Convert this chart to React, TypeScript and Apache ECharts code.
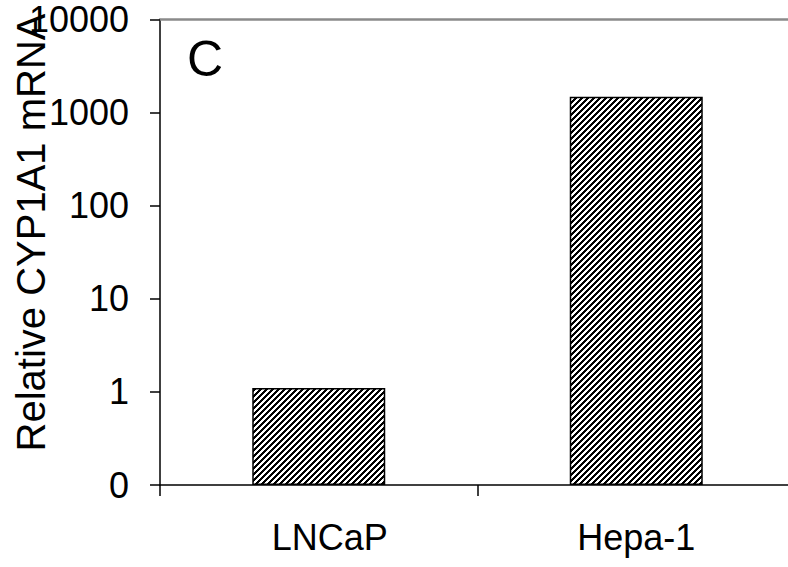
import React, { useEffect, useRef } from "react";
import * as echarts from "echarts";

const categories = ["LNCaP", "Hepa-1"];
const values = [1.1, 1480];
const axisFloor = 0.1;
const axisCeil = 10000;
const yTicks = [0.1, 1, 10, 100, 1000, 10000];
const yTickLabels = ["0", "1", "10", "100", "1000", "10000"];
const yTitle = "Relative CYP1A1 mRNA";
const panelLabel = "C";

function makePattern(): HTMLCanvasElement {
  const p = 6;
  const c = document.createElement("canvas");
  c.width = p;
  c.height = p;
  const ctx = c.getContext("2d")!;
  const img = ctx.createImageData(p, p);
  for (let y = 0; y < p; y++) {
    for (let x = 0; x < p; x++) {
      const k = (x + y) % p;
      const v = k < p / 2 ? 0 : 255;
      const i = (y * p + x) * 4;
      img.data[i] = v;
      img.data[i + 1] = v;
      img.data[i + 2] = v;
      img.data[i + 3] = 255;
    }
  }
  ctx.putImageData(img, 0, 0);
  return c;
}

export default function App() {
  const ref = useRef<HTMLDivElement>(null);
  useEffect(() => {
    if (!ref.current) return;
    const chart = echarts.init(ref.current, undefined, { renderer: "svg" });
    const font = "'Liberation Sans', Arial, sans-serif";
    const labelFor = (v: number) => {
      const idx = yTicks.findIndex((t) => Math.abs(Math.log10(t) - Math.log10(v)) < 1e-6);
      return idx >= 0 ? yTickLabels[idx] : "";
    };
    chart.setOption({
      animation: false,
      backgroundColor: "#ffffff",
      grid: { left: 160, top: 19.5, right: 5, bottom: 82, containLabel: false },
      xAxis: [
        {
          type: "category",
          data: categories.map((c, i) =>
            i === 0 ? { value: c, textStyle: { padding: [0, 0, 0, 22] } } : c
          ),
          position: "bottom",
          axisLine: { lineStyle: { color: "#000", width: 1.5 } },
          axisTick: { show: true, length: 11, lineStyle: { color: "#000", width: 1.5 } },
          axisLabel: { color: "#000", fontSize: 36, fontFamily: font, margin: 34 },
        },
        {
          type: "category",
          data: categories,
          position: "top",
          axisLine: { lineStyle: { color: "#8a8a8a", width: 2.5 } },
          axisTick: { show: false },
          axisLabel: { show: false },
        },
      ],
      yAxis: {
        type: "log",
        logBase: 10,
        min: axisFloor,
        max: axisCeil,
        axisLine: { show: true, lineStyle: { color: "#000", width: 1.5 } },
        axisTick: { show: true, length: 10, lineStyle: { color: "#000", width: 1.5 } },
        minorTick: { show: false },
        splitLine: { show: false },
        axisLabel: {
          color: "#000",
          fontSize: 36,
          fontFamily: font,
          margin: 31,
          formatter: (v: number) => labelFor(v),
        },
      },
      series: [
        {
          type: "bar",
          stack: "s",
          data: values.map(() => axisFloor),
          barWidth: 133,
          itemStyle: { color: "rgba(0,0,0,0)" },
          silent: true,
        },
        {
          type: "bar",
          stack: "s",
          data: values.map((v) => v - axisFloor),
          barWidth: 133,
          itemStyle: {
            color: { image: makePattern(), repetition: "repeat" },
            borderColor: "#000",
            borderWidth: 1.5,
          },
        },
      ],
      graphic: [
        {
          type: "text",
          x: 31,
          y: 232.5,
          rotation: Math.PI / 2,
          style: {
            text: yTitle,
            fontSize: 40,
            fontFamily: font,
            fill: "#000",
            align: "center",
            verticalAlign: "middle",
          },
        },
        {
          type: "text",
          x: 187,
          y: 58.5,
          style: {
            text: panelLabel,
            fontSize: 50,
            fontFamily: font,
            fill: "#000",
            align: "left",
            verticalAlign: "middle",
          },
        },
      ],
    });
    return () => chart.dispose();
  }, []);
  return (
    <div style={{ position: "absolute", left: 0, top: 0, width: 788, height: 567, overflow: "hidden" }}>
      <div ref={ref} style={{ width: 800, height: 567 }} />
    </div>
  );
}
